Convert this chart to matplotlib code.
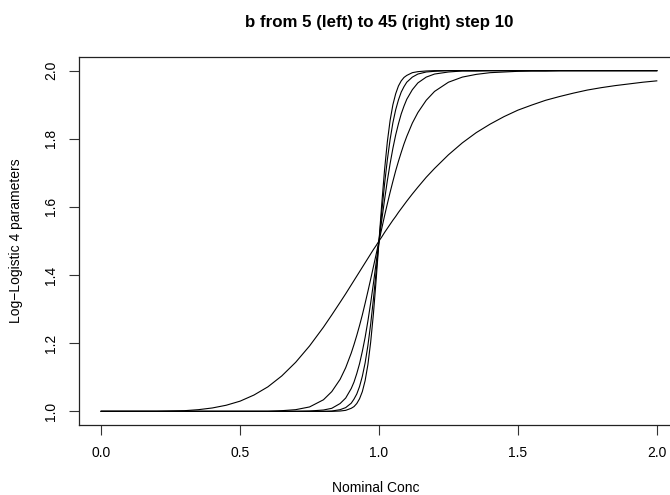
import matplotlib
matplotlib.use('Agg')
import matplotlib.pyplot as plt

plt.rcParams.update({
    "font.family": ["Liberation Sans", "DejaVu Sans"],
    "axes.unicode_minus": True,
})
size = 10

# nominal concentrations and log-logistic curve values
conc = [0, 0.1, 0.2, 0.3, 0.35, 0.4, 0.45, 0.5, 0.55, 0.6,
        0.65, 0.7, 0.75, 0.8, 0.83, 0.86, 0.88, 0.9, 0.91, 0.92,
        0.93, 0.94, 0.95, 0.96, 0.97, 0.98, 0.99, 1.0, 1.01, 1.02,
        1.03, 1.04, 1.05, 1.06, 1.07, 1.08, 1.09, 1.1, 1.12, 1.14,
        1.17, 1.2, 1.25, 1.3, 1.35, 1.4, 1.45, 1.5, 1.55, 1.6,
        1.65, 1.7, 1.75, 1.8, 1.85, 1.9, 1.95, 2.0]
b_values = [5, 15, 25, 35, 45]
resp_b5 = [1.000, 1.000, 1.000, 1.002, 1.005, 1.010, 1.018, 1.030, 1.048, 1.072,
           1.104, 1.144, 1.192, 1.247, 1.283, 1.320, 1.345, 1.371, 1.384, 1.397,
           1.410, 1.423, 1.436, 1.449, 1.462, 1.475, 1.487, 1.500, 1.512, 1.525,
           1.537, 1.549, 1.561, 1.572, 1.584, 1.595, 1.606, 1.617, 1.638, 1.658,
           1.687, 1.713, 1.753, 1.788, 1.818, 1.843, 1.865, 1.884, 1.899, 1.913,
           1.924, 1.934, 1.943, 1.950, 1.956, 1.961, 1.966, 1.970]
resp_b15 = [1.000, 1.000, 1.000, 1.000, 1.000, 1.000, 1.000, 1.000, 1.000, 1.000,
            1.002, 1.005, 1.013, 1.034, 1.058, 1.094, 1.128, 1.171, 1.196, 1.223,
            1.252, 1.283, 1.317, 1.352, 1.388, 1.425, 1.462, 1.500, 1.537, 1.574,
            1.609, 1.643, 1.675, 1.706, 1.734, 1.760, 1.785, 1.807, 1.846, 1.877,
            1.913, 1.939, 1.966, 1.981, 1.989, 1.994, 1.996, 1.998, 1.999, 1.999,
            2.000, 2.000, 2.000, 2.000, 2.000, 2.000, 2.000, 2.000]
resp_b25 = [1.000, 1.000, 1.000, 1.000, 1.000, 1.000, 1.000, 1.000, 1.000, 1.000,
            1.000, 1.000, 1.001, 1.004, 1.009, 1.023, 1.039, 1.067, 1.086, 1.111,
            1.140, 1.176, 1.217, 1.265, 1.318, 1.376, 1.438, 1.500, 1.562, 1.621,
            1.677, 1.727, 1.772, 1.811, 1.844, 1.873, 1.896, 1.916, 1.944, 1.964,
            1.981, 1.990, 1.996, 1.999, 1.999, 2.000, 2.000, 2.000, 2.000, 2.000,
            2.000, 2.000, 2.000, 2.000, 2.000, 2.000, 2.000, 2.000]
resp_b35 = [1.000, 1.000, 1.000, 1.000, 1.000, 1.000, 1.000, 1.000, 1.000, 1.000,
            1.000, 1.000, 1.000, 1.000, 1.001, 1.005, 1.011, 1.024, 1.036, 1.051,
            1.073, 1.103, 1.142, 1.193, 1.256, 1.330, 1.413, 1.500, 1.586, 1.667,
            1.738, 1.798, 1.847, 1.885, 1.914, 1.937, 1.953, 1.966, 1.981, 1.990,
            1.996, 1.998, 2.000, 2.000, 2.000, 2.000, 2.000, 2.000, 2.000, 2.000,
            2.000, 2.000, 2.000, 2.000, 2.000, 2.000, 2.000, 2.000]
resp_b45 = [1.000, 1.000, 1.000, 1.000, 1.000, 1.000, 1.000, 1.000, 1.000, 1.000,
            1.000, 1.000, 1.000, 1.000, 1.000, 1.001, 1.003, 1.009, 1.014, 1.023,
            1.037, 1.058, 1.090, 1.137, 1.203, 1.287, 1.389, 1.500, 1.610, 1.709,
            1.791, 1.854, 1.900, 1.932, 1.955, 1.970, 1.980, 1.986, 1.994, 1.997,
            1.999, 2.000, 2.000, 2.000, 2.000, 2.000, 2.000, 2.000, 2.000, 2.000,
            2.000, 2.000, 2.000, 2.000, 2.000, 2.000, 2.000, 2.000]
curves = [resp_b5, resp_b15, resp_b25, resp_b35, resp_b45]

xticks = [0.0, 0.5, 1.0, 1.5, 2.0]
yticks = [1.0, 1.2, 1.4, 1.6, 1.8, 2.0]

fig = plt.figure(figsize=(6.7, 4.95), dpi=100)
ax = fig.add_axes([79/670, 1-425/495, 600/670, 368/495])

for resp in curves:
    ax.plot(conc, resp, color='black', lw=0.8, solid_joinstyle='round')

ax.set_xlim(-0.08, 2.08)
ax.set_ylim(0.96, 2.04)
ax.set_xticks(xticks)
ax.set_xticklabels(["%.1f" % t for t in xticks])
ax.set_yticks(yticks)
ax.set_yticklabels(["%.1f" % t for t in yticks], rotation=90, va='center')
ax.tick_params(axis='both', direction='out', length=7, width=0.8, labelsize=size,
               color='#333333')
ax.tick_params(axis='x', pad=8)
ax.tick_params(axis='y', pad=8)
for sp in ax.spines.values():
    sp.set_linewidth(0.9)
    sp.set_color('#222222')

fig.text(379/670, 1-22/495, 'b from 5 (left) to 45 (right) step 10', ha='center',
         va='center', fontsize=12.2, fontweight='bold')
fig.text(16/670, 1-241/495, 'Log\u2212Logistic 4 parameters', ha='center', va='center',
         rotation=90, fontsize=size)
fig.text(376/670, 1-488/495, 'Nominal Conc', ha='center', va='center', fontsize=size)

plt.savefig('out.png', dpi=100)
